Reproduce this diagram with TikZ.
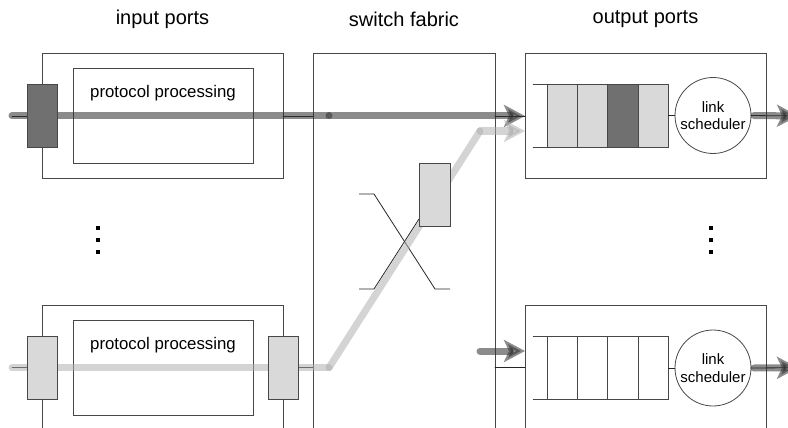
\documentclass[tikz,border=0pt]{standalone}
\usepackage{fontspec}
\setmainfont{Liberation Sans}
\usetikzlibrary{arrows.meta}
\tikzset{
  pbox/.style={draw=black!72, line width=0.8pt, inner sep=0pt, outer sep=0pt},
  blk/.style={pbox, minimum width=30pt, minimum height=63pt},
  qcell/.style={pbox, minimum width=30.25pt, minimum height=63pt},
  wire/.style={draw=black!85, line width=0.8pt, line cap=round},
  heavy/.style={draw=black!81, line width=7pt, line cap=round, opacity=0.56},
  light/.style={draw=black!32, line width=7pt, line cap=round, opacity=0.53},
  bigtip/.style={-{Stealth[length=21pt, width=22pt, inset=5pt]}},
  hd/.style={font=\fontsize{20}{24}\selectfont},
  pp/.style={font=\fontsize{16.8}{20}\selectfont},
  sched/.style={pbox, circle, minimum size=76pt, align=center,
    font=\fontsize{15}{17.5}\selectfont}
}
\begin{document}
\begin{tikzpicture}[x=1pt, y=-1pt]
\useasboundingbox (0,0) rectangle (788,428);
% headings
\node[hd] (hdIn) at (162.5,19) {input ports};
\node[hd] (hdFab) at (404,19) {switch fabric};
\node[hd] (hdOut) at (645.5,19) {output ports};
% boxes
\node[pbox, minimum width=241pt, minimum height=125pt] (inA) at (162.5,115.5) {};
\node[pbox, minimum width=180pt, minimum height=95pt] (ppA) at (163,115.5) {};
\node[pp] (ppTxtA) at (163,93) {protocol processing};
\node[pbox, minimum width=241pt, minimum height=155pt] (inB) at (162.5,382.5) {};
\node[pbox, minimum width=180pt, minimum height=95pt] (ppB) at (163,368.3) {};
\node[pp] (ppTxtB) at (163,345) {protocol processing};
\node[pbox, minimum width=182pt, minimum height=407pt] (fab) at (404,256.5) {};
\node[pbox, minimum width=241pt, minimum height=125pt] (outA) at (645.5,115.5) {};
\node[pbox, minimum width=241pt, minimum height=155pt] (outB) at (645.5,382.5) {};
% free ends
\coordinate (srcA) at (12,116);
\coordinate (srcB) at (12,367.7);
\coordinate (jA) at (329,116);
\coordinate (jB) at (329,367.7);
\coordinate (kB) at (480,131);
\coordinate (srcC) at (480,351);
\coordinate (exitA) at (798,116);
\coordinate (exitB) at (798,367.7);
% thin wires
\draw[wire] (srcA) -- (27,116);
\draw[wire] (inA.east |- srcA) -- (fab.west |- srcA);
\draw[wire] (fab.east |- srcA) -- (outA.west |- srcA);
\draw[wire] (srcB) -- (27,367.7);
\draw[wire] (298,367.7) -- (fab.west |- srcB);
\draw[wire] (fab.east |- srcB) -- (outB.west |- srcB);
% crossbar
\draw[wire, line cap=butt] (359,194) -- (374,194) -- (435,289) -- (450,289);
\draw[wire, line cap=butt] (359,289) -- (374,289) -- (419,219);
% queues and schedulers
\foreach \i/\c in {1/black!15, 2/black!15, 3/black!56, 4/black!15}
  \node[qcell, fill=\c] (qA\i) at ({547.3+30.25*(\i-0.5)},115.5) {};
\foreach \i in {1,...,4}
  \node[qcell, fill=white] (qB\i) at ({547.3+30.25*(\i-0.5)},368) {};
\draw[pbox] (532.7,84) -- (qA1.north west);
\draw[pbox] (532.7,147) -- (qA1.south west);
\draw[pbox] (532.7,336.5) -- (qB1.north west);
\draw[pbox] (532.7,399.5) -- (qB1.south west);
\node[sched] (schA) at (713,115.5) {link\\scheduler};
\node[sched] (schB) at (713,368) {link\\scheduler};
\draw[wire] (qA4.east) -- (schA.west);
\draw[wire] (qB4.east) -- (schB.west);
\draw[wire] (schA.east) -- (exitA);
\draw[wire] (schB.east) -- (exitB);
% packet paths
\draw[heavy] (srcA) -- (jA);
\draw[heavy, bigtip] (jA) -- (outA.west |- jA);
\draw[light] (srcB) -- (jB);
\draw[light] (jB) -- (kB);
\draw[light, bigtip] (kB) -- (outA.west |- kB);
\draw[heavy, bigtip] (srcC) -- (outB.west |- srcC);
\draw[heavy, bigtip] ([xshift=3pt]schA.east) -- (exitA);
\draw[heavy, bigtip] ([xshift=3pt]schB.east) -- (exitB);
% buffers
\node[blk, fill=black!56] (bA) at (42,115.5) {};
\node[blk, fill=black!15] (bB) at (42,368) {};
\node[blk, fill=black!15] (bC) at (283,368) {};
\node[blk, minimum width=31pt, fill=black!15] (bSw) at (434.5,194.5) {};
% dots
\foreach \y in {228.3,240,252.3} {
  \fill ({95.7},{\y-2}) rectangle ({99.7},{\y+2});
  \fill ({709.3},{\y-2}) rectangle ({713.3},{\y+2});
}
\end{tikzpicture}
\end{document}
